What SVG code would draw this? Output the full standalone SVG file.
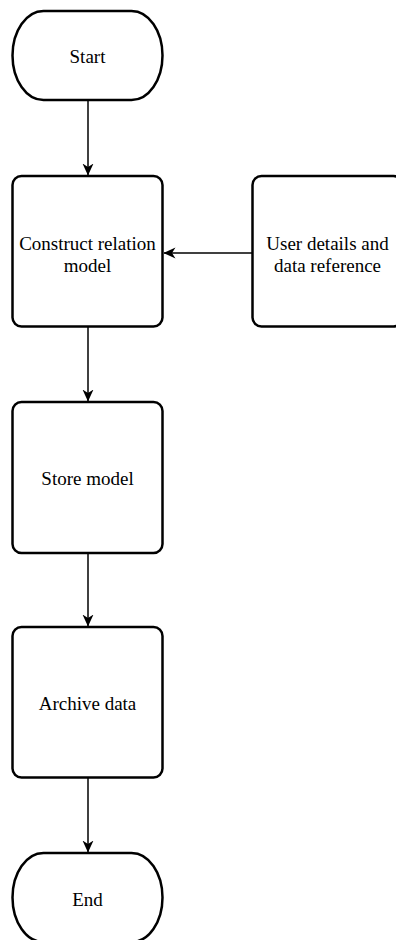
<svg xmlns="http://www.w3.org/2000/svg" width="396" height="940" viewBox="0 0 396 940">
  <style>
    .shape { fill: #ffffff; stroke: #000000; stroke-width: 2.5; }
    .label { font-family: "Liberation Serif", "Times New Roman", serif; font-size: 19px; fill: #000000; text-anchor: middle; }
    .edge { fill: none; stroke: #000000; stroke-width: 1.5; marker-end: url(#arrow); }
  </style>
  <defs>
    <marker id="arrow" viewBox="0 0 12 12" refX="11.5" refY="6" markerWidth="12" markerHeight="12" markerUnits="userSpaceOnUse" orient="auto">
      <path d="M0,0.5 L12,6 L0,11.5 L3.5,6 Z" fill="#000000" stroke="none"/>
    </marker>
  </defs>
  <rect width="396" height="940" fill="#ffffff"/>

  <g id="connectors">
    <path class="edge" d="M88,100 L88,175"/>
    <path class="edge" d="M252.5,253 L164,253"/>
    <path class="edge" d="M88,326.5 L88,401"/>
    <path class="edge" d="M88,553 L88,626"/>
    <path class="edge" d="M88,777.5 L88,852"/>
  </g>

  <g id="start">
    <rect class="shape" x="12.5" y="11" width="150" height="89" rx="31" ry="44.5"/>
    <text class="label" x="87.5" y="63">Start</text>
  </g>

  <g id="construct">
    <rect class="shape" x="12.5" y="176" width="150" height="150.5" rx="9" ry="9"/>
    <text class="label" x="87.5" y="250">Construct relation</text>
    <text class="label" x="87.5" y="272">model</text>
  </g>

  <g id="userdetails">
    <rect class="shape" x="252.5" y="176" width="150" height="150.5" rx="9" ry="9"/>
    <text class="label" x="327.5" y="250">User details and</text>
    <text class="label" x="327.5" y="272">data reference</text>
  </g>

  <g id="store">
    <rect class="shape" x="12.5" y="402" width="150" height="151" rx="9" ry="9"/>
    <text class="label" x="87.5" y="485">Store model</text>
  </g>

  <g id="archive">
    <rect class="shape" x="12.5" y="627" width="150" height="150.5" rx="9" ry="9"/>
    <text class="label" x="87.5" y="710">Archive data</text>
  </g>

  <g id="end">
    <rect class="shape" x="12.5" y="853" width="150" height="89" rx="31" ry="44.5"/>
    <text class="label" x="87.5" y="905.5">End</text>
  </g>
</svg>
